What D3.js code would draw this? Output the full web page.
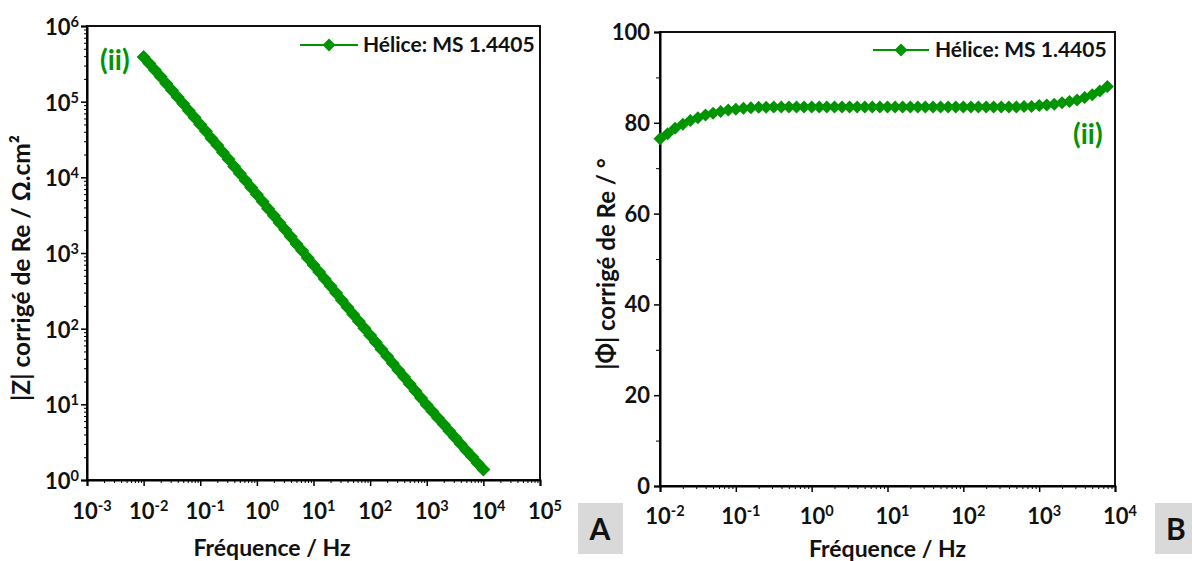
<!DOCTYPE html>
<html><head><meta charset="utf-8">
<script src="https://cdn.jsdelivr.net/npm/d3@7"></script>
<style>
html,body{margin:0;padding:0;background:#fff;}
svg text{font-family:Lato,"Open Sans",sans-serif;font-weight:bold;fill:#111;}
</style></head>
<body>
<svg id="c" width="1192" height="561"></svg>
<script>
// ---- data ----
const freq = [
 0.01,0.0126,0.0158,0.02,0.0251,0.0316,0.0398,0.0501,0.0631,0.0794,
 0.1,0.126,0.158,0.2,0.251,0.316,0.398,0.501,0.631,0.794,
 1,1.26,1.58,2,2.51,3.16,3.98,5.01,6.31,7.94,
 10,12.6,15.8,20,25.1,31.6,39.8,50.1,63.1,79.4,
 100,126,158,200,251,316,398,501,631,794,
 1000,1260,1580,2000,2510,3160,3980,5010,6310,7940,
 10000];
const zMod = [
 3.89e5,3.20e5,2.62e5,2.14e5,1.74e5,1.42e5,1.15e5,9.38e4,7.60e4,6.17e4,
 5.00e4,4.05e4,3.27e4,2.65e4,2.14e4,1.73e4,1.39e4,1.12e4,9.08e3,7.33e3,
 5.92e3,4.78e3,3.85e3,3.11e3,2.51e3,2.03e3,1.64e3,1.32e3,1.07e3,861,
 695,561,453,366,295,238,192,155,125,101,
 81.7,66.1,53.5,43.3,35.0,28.3,22.9,18.5,15.0,12.1,
 9.82,8.04,6.58,5.40,4.43,3.64,2.99,2.46,2.03,1.67,
 1.38];
const phase = [
 76.5,77.6,78.8,79.7,80.5,81.1,81.7,82.1,82.5,82.8,
 83.0,83.2,83.3,83.4,83.4,83.5,83.5,83.5,83.5,83.5,
 83.5,83.5,83.5,83.5,83.5,83.5,83.5,83.5,83.5,83.5,
 83.5,83.5,83.5,83.5,83.5,83.5,83.5,83.5,83.5,83.5,
 83.5,83.5,83.5,83.5,83.5,83.5,83.5,83.5,83.6,83.6,
 83.8,83.9,84.1,84.4,84.7,85.0,85.6,86.2,87.0,88.0];
const seriesName = "Hélice: MS 1.4405";
const xTicksA = [1e-3,1e-2,1e-1,1e0,1e1,1e2,1e3,1e4,1e5];
const yTicksA = [1e0,1e1,1e2,1e3,1e4,1e5,1e6];
const xTicksB = [1e-2,1e-1,1e0,1e1,1e2,1e3,1e4];
const yTicksB = [0,20,40,60,80,100];
const yMinorB = [10,30,50,70,90];

const green = "#009400";
const svg = d3.select("#c");
const TICK_FS = 22, TITLE_FS = 23, LEG_FS = 21;

function minorLog(lo, hi){
  const out=[];
  for(let e=Math.round(Math.log10(lo)); e<Math.round(Math.log10(hi)); e++)
    for(let m=2;m<=9;m++) out.push(m*Math.pow(10,e));
  return out;
}
function powLabel(sel, v){
  const e = Math.round(Math.log10(v));
  sel.text(null);
  sel.append("tspan").text("10");
  sel.append("tspan").attr("dy","-0.55em").attr("font-size","0.66em").text(e);
}
const diamondPath = (r)=>`M0,${-r}L${r},0L0,${r}L${-r},0Z`;

// ---------- Panel A ----------
const A = {l:87, r:540, t:26, b:480};
const xA = d3.scaleLog().domain([1e-3,1e5]).range([A.l,A.r]);
const yA = d3.scaleLog().domain([1,1e6]).range([A.b,A.t]);
const gA = svg.append("g");

gA.append("rect").attr("x",A.l).attr("y",A.t).attr("width",A.r-A.l).attr("height",A.b-A.t)
  .attr("fill","none").attr("stroke","#111").attr("stroke-width",2);

const axA = gA.append("g").attr("transform",`translate(0,${A.b})`)
  .call(d3.axisBottom(xA).tickValues(xTicksA).tickSize(6).tickFormat(""));
axA.select(".domain").attr("stroke-width",2);
axA.selectAll(".tick line").attr("stroke-width",1.5);
gA.append("g").attr("transform",`translate(0,${A.b})`)
  .call(d3.axisBottom(xA).tickValues(minorLog(1e-3,1e5)).tickSize(3).tickFormat(""))
  .call(g=>g.select(".domain").remove());
gA.selectAll(".xlabA").data(xTicksA).join("text")
  .attr("x",d=>xA(d)+5).attr("y",A.b+39).attr("text-anchor","middle")
  .attr("font-size",TICK_FS).each(function(d){powLabel(d3.select(this),d);});

const ayA = gA.append("g").attr("transform",`translate(${A.l},0)`)
  .call(d3.axisLeft(yA).tickValues(yTicksA).tickSize(6).tickFormat(""));
ayA.select(".domain").attr("stroke-width",2);
ayA.selectAll(".tick line").attr("stroke-width",1.5);
gA.append("g").attr("transform",`translate(${A.l},0)`)
  .call(d3.axisLeft(yA).tickValues(minorLog(1,1e6)).tickSize(3).tickFormat(""))
  .call(g=>g.select(".domain").remove());
gA.selectAll(".ylabA").data(yTicksA).join("text")
  .attr("x",A.l-8).attr("y",d=>yA(d)+9).attr("text-anchor","end")
  .attr("font-size",TICK_FS).each(function(d){powLabel(d3.select(this),d);});

const lineA = d3.line().x((d,i)=>xA(freq[i])).y(d=>yA(d));
gA.append("path").datum(zMod).attr("d",lineA).attr("fill","none").attr("stroke",green).attr("stroke-width",2);
gA.selectAll(".mA").data(zMod).join("path")
  .attr("transform",(d,i)=>`translate(${xA(freq[i])},${yA(d)})`)
  .attr("d",diamondPath(7)).attr("fill",green);

gA.append("line").attr("x1",300).attr("x2",358).attr("y1",45).attr("y2",45).attr("stroke",green).attr("stroke-width",2);
gA.append("path").attr("transform","translate(329,45)").attr("d",diamondPath(6.5)).attr("fill",green);
gA.append("text").attr("x",363).attr("y",52).attr("font-size",LEG_FS).text(seriesName);
gA.append("text").attr("x",100).attr("y",70).attr("font-size",28).style("fill",green).text("(ii)");

gA.append("text").attr("x",272).attr("y",556).attr("text-anchor","middle").attr("font-size",TITLE_FS).text("Fréquence / Hz");
gA.append("text").attr("transform",`translate(30,${268}) rotate(-90)`).attr("text-anchor","middle").attr("font-size",24.5).text("|Z| corrigé de Re / Ω.cm²");

// ---------- Panel B ----------
const B = {l:660, r:1115, t:32, b:486};
const xB = d3.scaleLog().domain([1e-2,1e4]).range([B.l,B.r]);
const yB = d3.scaleLinear().domain([0,100]).range([B.b,B.t]);
const gB = svg.append("g");
gB.append("rect").attr("x",B.l).attr("y",B.t).attr("width",B.r-B.l).attr("height",B.b-B.t)
  .attr("fill","none").attr("stroke","#111").attr("stroke-width",2);

const axB = gB.append("g").attr("transform",`translate(0,${B.b})`)
  .call(d3.axisBottom(xB).tickValues(xTicksB).tickSize(6).tickFormat(""));
axB.select(".domain").attr("stroke-width",2);
axB.selectAll(".tick line").attr("stroke-width",1.5);
gB.append("g").attr("transform",`translate(0,${B.b})`)
  .call(d3.axisBottom(xB).tickValues(minorLog(1e-2,1e4)).tickSize(3).tickFormat(""))
  .call(g=>g.select(".domain").remove());
gB.selectAll(".xlabB").data(xTicksB).join("text")
  .attr("x",d=>xB(d)+5).attr("y",B.b+38).attr("text-anchor","middle")
  .attr("font-size",TICK_FS).each(function(d){powLabel(d3.select(this),d);});

const ayB = gB.append("g").attr("transform",`translate(${B.l},0)`)
  .call(d3.axisLeft(yB).tickValues(yTicksB).tickSize(6).tickFormat(""));
ayB.select(".domain").attr("stroke-width",2);
ayB.selectAll(".tick line").attr("stroke-width",1.5);
gB.append("g").attr("transform",`translate(${B.l},0)`)
  .call(d3.axisLeft(yB).tickValues(yMinorB).tickSize(4).tickFormat(""))
  .call(g=>g.select(".domain").remove());
gB.selectAll(".ylabB").data(yTicksB).join("text")
  .attr("x",B.l-10).attr("y",d=>yB(d)+8).attr("text-anchor","end")
  .attr("font-size",TICK_FS).text(d=>d);

const lineB = d3.line().x((d,i)=>xB(freq[i])).y(d=>yB(d));
gB.append("path").datum(phase).attr("d",lineB).attr("fill","none").attr("stroke",green).attr("stroke-width",2);
gB.selectAll(".mB").data(phase).join("path")
  .attr("transform",(d,i)=>`translate(${xB(freq[i])},${yB(d)})`)
  .attr("d",diamondPath(6.5)).attr("fill",green);

gB.append("line").attr("x1",873).attr("x2",929).attr("y1",50).attr("y2",50).attr("stroke",green).attr("stroke-width",2);
gB.append("path").attr("transform","translate(901,50)").attr("d",diamondPath(6.5)).attr("fill",green);
gB.append("text").attr("x",935).attr("y",57).attr("font-size",LEG_FS).text(seriesName);
gB.append("text").attr("x",1073).attr("y",144).attr("font-size",28).style("fill",green).text("(ii)");

gB.append("text").attr("x",(B.l+B.r)/2).attr("y",557).attr("text-anchor","middle").attr("font-size",TITLE_FS).text("Fréquence / Hz");
gB.append("text").attr("transform",`translate(615,${264}) rotate(-90)`).attr("text-anchor","middle").attr("font-size",24).text("|Φ| corrigé de Re / °");

svg.append("rect").attr("x",578).attr("y",503).attr("width",45).attr("height",51).attr("fill","#d9d9d9");
svg.append("text").attr("x",600).attr("y",540).attr("text-anchor","middle").attr("font-size",30).text("A");
svg.append("rect").attr("x",1155).attr("y",503).attr("width",37).attr("height",51).attr("fill","#d9d9d9");
svg.append("text").attr("x",1176).attr("y",540).attr("text-anchor","middle").attr("font-size",30).text("B");
</script>
</body></html>
